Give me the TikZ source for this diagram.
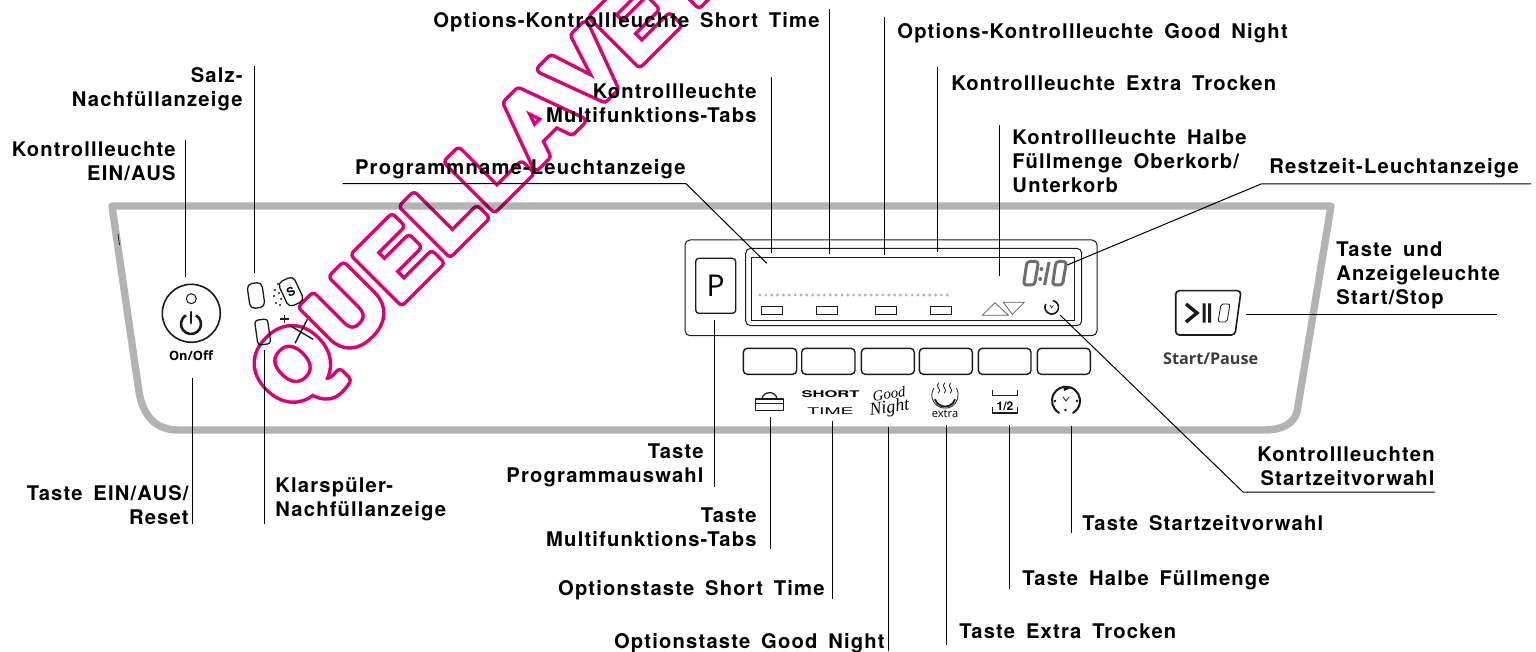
\documentclass[tikz,border=0pt]{standalone}
\usepackage{graphicx}
\usepackage{fontspec}
\setmainfont[LetterSpace=5.8,WordSpace=1.6]{TeX Gyre Heros}
\newfontfamily\wmfont[LetterSpace=6,Kerning=Off]{Liberation Sans}
\newfontfamily\panelfont{Open Sans}
\newfontfamily\iconfont{TeX Gyre Heros}
\newfontfamily\handfont{Liberation Serif}
\definecolor{panelgray}{HTML}{B3B3B3}
\definecolor{ink}{HTML}{1A1A1A}
\definecolor{segment}{HTML}{6E6E6E}
\newcommand{\vconn}[4]{\coordinate (#1a) at (#2,#3);\coordinate (#1b) at (#2,#4);\draw[conn] (#1a) -- (#1b);}
\tikzset{
 conn/.style={black,line width=0.5pt},
 lab/.style={font=\fontsize{10.1}{12}\selectfont\bfseries,inner sep=0pt,text=black},
 labr/.style={lab,anchor=east,align=right},
 labl/.style={lab,anchor=west,align=left},
 part/.style={draw=ink,line width=0.65pt,rounded corners=1.6pt},
 softkey/.style={draw=ink,line width=0.7pt,rounded corners=2pt},
 seg/.style={draw=segment,line width=1.5pt,line join=round},
 icon/.style={draw=ink,line width=0.8pt,line cap=round,line join=round},
 wm/.style={inner sep=0pt,anchor=base west,rotate=45},
}
\begin{document}
\begin{tikzpicture}[x=0.5pt,y=-0.5pt]
\useasboundingbox (0,0) rectangle (1536,652);
\clip (0,0) rectangle (1536,652);
\fill[white] (0,0) rectangle (1536,652);
% panel
\draw[panelgray,line width=3.7pt,line join=round] (112,206) -- (1331,206) -- (1297,412)
  .. controls (1293,425) and (1280,430) .. (1265,430) -- (178,430)
  .. controls (155,430) and (143,415) .. (139,392) -- cycle;
\draw[ink,line width=0.4pt] (118,234) -- (119.5,245);
% power
\node[draw=ink,line width=0.8pt,circle,minimum size=29pt,inner sep=0pt] (power) at (191.3,313.3) {};
\node[draw=ink,line width=0.5pt,circle,minimum size=5pt,inner sep=0pt] (powerled) at (191.3,298.7) {};
\draw[ink,line width=1.3pt] (191,324) ++(60:5pt) arc[start angle=60,end angle=-240,radius=5pt];
\draw[ink,line width=1.3pt,line cap=round] (191,312) -- (191,323);
\node[font=\panelfont\bfseries\fontsize{6.4}{8}\selectfont,inner sep=0pt,text=black] (onoff) at (191,356) {On/Off};
% LEDs
\node[part,rotate=8,minimum width=7.5pt,minimum height=12.5pt,inner sep=0pt,rounded corners=2.5pt] (saltled) at (256,295.5) {};
\node[part,rotate=8,minimum width=6.5pt,minimum height=12.5pt,inner sep=0pt] (rinseled) at (262.7,332) {};
\node[part,rotate=25,minimum width=8.5pt,minimum height=13.5pt,inner sep=0pt,rounded corners=2.5pt,font=\iconfont\bfseries\fontsize{6}{7}\selectfont] (salt) at (291,291.7) {S};
\foreach \px/\py in {278/284, 275/290, 279/293, 274/296, 281/299, 276/303, 280/305}{\fill[ink] (\px,\py) circle[radius=0.6pt];}
\coordinate (plusa) at (280,319);\coordinate (plusb) at (289,319);
\coordinate (plusc) at (284.5,315);\coordinate (plusd) at (284.5,323);
\draw[ink,line width=0.7pt] (plusa) -- (plusb) (plusc) -- (plusd);
\coordinate (rinsea) at (289,325);\coordinate (rinseb) at (313,339.3);
\coordinate (rinsec) at (295,343.3);\coordinate (rinsed) at (307.3,319.3);
\draw[ink,line width=0.7pt] (rinsea) -- (rinseb) (rinsec) -- (rinsed);
% display
\draw[ink,line width=0.5pt,rounded corners=2.5pt] (685,240) rectangle (1097,335.7);
\node[part,minimum width=20pt,minimum height=27.5pt,inner sep=0pt,font=\panelfont\fontsize{15}{15}\selectfont] (pkey) at (715.7,285.8) {P};
\draw[ink,line width=0.5pt,rounded corners=2.5pt] (745.7,248.3) rectangle (1081.7,325.7);
\draw[ink,line width=0.5pt] (751.7,257.7) rectangle (1074,320.7);
\foreach \d in {0,1,...,32}{\fill[panelgray] (760+\d*5.85,295) circle[radius=0.8pt];}
\foreach \n/\x in {a/761.3,b/816.7,c/875.3,d/930.7}{\draw[ink,line width=0.45pt] (\x,306) rectangle ++(21.2,8.7);}
\draw[ink!70,line width=0.4pt] (982.3,315.3) -- (995,302.7) -- (1008.3,315.3) -- cycle;
\draw[ink!70,line width=0.4pt] (1003.3,302.3) -- (1024.3,302.3) -- (1012.3,314.3) -- cycle;
% small clock
\draw[ink,line width=0.8pt] (1051.7,307.3) ++(80:3.4pt) arc[start angle=80,end angle=-210,radius=3.4pt];
\draw[ink,line width=0.3pt] (1050,305) -- (1051.7,308) -- (1053.5,305);
% digits
\draw[seg,rounded corners=1.5pt] (1027,261.5) -- (1038.5,261.5) -- (1034.5,285) -- (1023.5,285) -- cycle;
\fill[segment] (1041.5,269) circle[radius=1pt] (1040.2,279) circle[radius=1pt];
\draw[seg] (1049,262) -- (1044.5,285);
\draw[seg,rounded corners=1.5pt] (1056,261.5) -- (1066.5,261.5) -- (1062.5,285) -- (1052.5,285) -- cycle;
% keys
\foreach \n/\xa/\xb in {ka/743.3/796.7,kb/801.7/855,kc/861.3/914.3,kd/919.3/972.3,ke/978.3/1031,kf/1037.3/1090.3}{
  \draw[softkey] (\xa,348.3) rectangle (\xb,374.3);}
% icons under the keys
\draw[icon] (755.3,399) rectangle (783.3,410.3) (755.3,403.5) -- (783.3,403.5);
\draw[icon,line width=0.6pt] (762,399) .. controls (763,390.5) and (776,390.5) .. (777,399);
\node[inner sep=0pt,font=\iconfont\bfseries\fontsize{4.6}{5}\selectfont] (short) at (830.5,394) {\scalebox{1.8}[1]{SHORT}};
\node[inner sep=0pt,font=\iconfont\fontsize{4.6}{5}\selectfont] (time) at (830.5,410.7) {\scalebox{2.1}[1]{TIME}};
\node[inner sep=0pt,rotate=8,font=\handfont\itshape\fontsize{7.4}{10}\selectfont] (good) at (889,394) {Good};
\node[inner sep=0pt,rotate=8,font=\handfont\itshape\fontsize{9}{10}\selectfont] (night) at (889.5,408.5) {Night};
\draw[icon,line width=0.9pt] (945,396) ++(-20:5.3pt) arc[start angle=-20,end angle=-160,radius=5.3pt];
\draw[icon,line width=0.4pt] (945,395) ++(30:6.6pt) arc[start angle=30,end angle=-210,radius=6.6pt];
\foreach \sx in {938.5,944.5,950.5}{\draw[icon,line width=0.4pt] (\sx,383) .. controls (\sx-4,387) and (\sx+4,389) .. (\sx,393);}
\node[inner sep=0pt,font=\panelfont\fontsize{5.6}{6}\selectfont] (extra) at (945,413.5) {extra};
\draw[icon,line cap=butt,line width=0.7pt] (992.7,390) -- (992.7,395.7) -- (1017.3,395.7) -- (1017.3,390);
\draw[icon,line cap=butt,line width=0.7pt] (992.7,407.3) -- (992.7,413) -- (1017.3,413) -- (1017.3,407.3);
\node[inner sep=0pt,font=\iconfont\bfseries\fontsize{6}{7}\selectfont] (half) at (1005,406) {1/2};
\draw[icon,line width=1pt] (1066,400.7) ++(75:7pt) arc[start angle=75,end angle=-60,radius=7pt];
\draw[icon,line width=1pt] (1066,400.7) ++(-120:7pt) arc[start angle=-120,end angle=-280,radius=7pt];
\fill[ink] (1063,385.5) -- (1072,387.5) -- (1064,391) -- cycle;
\draw[icon,line width=0.4pt] (1063,397) -- (1066,401) -- (1069,397);
\fill[ink] (1055,401) circle[radius=0.7pt] (1077,401) circle[radius=0.7pt] (1065.5,410) circle[radius=0.7pt];
% start
\draw[ink,line width=0.8pt,line join=round,rounded corners=1.8pt] (1175.7,290.7) -- (1241,290.7) -- (1235,335) -- (1175.7,335) -- cycle;
\draw[ink,line width=1.7pt,line join=miter] (1186,304) -- (1197,313) -- (1186,322);
\fill[ink] (1202.5,303.3) rectangle (1205.5,322.7) (1208,303.3) rectangle (1211,322.7);
\draw[ink,line width=0.4pt,rounded corners=1pt] (1221,304) -- (1230,304) -- (1227,322) -- (1218,322) -- cycle;
\node[font=\panelfont\bfseries\fontsize{8.1}{10}\selectfont,inner sep=0pt,text=ink!85] (startpause) at (1210.7,359) {Start/Pause};
% labels
\node[labr] (l1) at (176,161) {Kontrollleuchte\\EIN/AUS};
\node[labr] (l2) at (243,89) {Salz-\\Nachfüllanzeige};
\node[lab,anchor=east] (l3) at (820,22.5) {Options-Kontrollleuchte Short Time};
\node[labl] (l4) at (897,33.5) {Options-Kontrollleuchte Good Night};
\node[labr] (l5) at (757,103) {Kontrollleuchte\\Multifunktions-Tabs};
\node[labl] (l6) at (951,83) {Kontrollleuchte Extra Trocken};
\node[labl] (l7) at (1012,161) {Kontrollleuchte Halbe\\Füllmenge Oberkorb/\\Unterkorb};
\node[lab,anchor=east] (l8) at (686,169.5) {Programmname-Leuchtanzeige};
\node[labl] (l9) at (1269,168.5) {Restzeit-Leuchtanzeige};
\node[labl] (l10) at (1336,275.5) {Taste und\\Anzeigeleuchte\\Start/Stop};
\node[labr] (l11) at (1435,466) {Kontrollleuchten\\Startzeitvorwahl};
\node[labl] (l12) at (1082,523.5) {Taste Startzeitvorwahl};
\node[labl] (l13) at (1022,580) {Taste Halbe Füllmenge};
\node[labl] (l14) at (959,631.5) {Taste Extra Trocken};
\node[lab,anchor=east] (l15) at (885,643.5) {Optionstaste Good Night};
\node[lab,anchor=east] (l16) at (825,590.5) {Optionstaste Short Time};
\node[labr] (l17) at (757,527) {Taste\\Multifunktions-Tabs};
\node[labr] (l18) at (704,465) {Taste\\Programmauswahl};
\node[labl] (l19) at (275,499) {Klarspüler-\\Nachfüllanzeige};
\node[labr] (l20) at (189,505) {Taste EIN/AUS/\\Reset};
% connectors
\vconn{c1}{185}{140}{277}
\vconn{c2}{254.5}{66}{273}
\vconn{c3}{264.5}{350}{524}
\vconn{c4}{192.7}{378}{524}
\vconn{c5}{771.7}{77}{253}
\vconn{c6}{829.3}{9}{254.3}
\vconn{c7}{884.3}{17}{255}
\vconn{c8}{937.7}{67}{251.7}
\vconn{c9}{999.3}{125}{275.7}
\vconn{c10}{714.7}{320}{487}
\vconn{c11}{770.3}{417.3}{549}
\vconn{c12}{832}{420.7}{599}
\vconn{c13}{888.7}{426.7}{651}
\vconn{c14}{946.3}{425}{645}
\vconn{c15}{1009.3}{425}{589}
\vconn{c16}{1071.3}{426}{533}
\coordinate (p1) at (342.7,183.7);\coordinate (p2) at (686,183.7);\coordinate (p3) at (766.7,263.3);
\draw[conn] (p1) -- (p2) -- (p3);
\coordinate (r1) at (1531,184);\coordinate (r2) at (1261,184);\coordinate (r3) at (1067.3,265);
\draw[conn] (r1) -- (r2) -- (r3);
\coordinate (s1) at (1246,314);\coordinate (s2) at (1497,314);
\draw[conn] (s1) -- (s2);
\coordinate (t1) at (1435,492);\coordinate (t2) at (1243,492);\coordinate (t3) at (1060,315);
\draw[conn] (t1) -- (t2) -- (t3);
% watermark: an offset outline of the lettering, kept transparent inside
\begin{scope}[blend mode=multiply]
\begin{scope}[transparency group]
\begin{scope}[blend mode=normal]
\node[wm] (watermark) at (289.4,412.9) {\wmfont\bfseries\fontsize{47}{50}\selectfont\special{pdf:code 0.86 0 0.47 RG 0.86 0 0.47 rg 5.75 w 1 j 2 Tr}QUELLAVET\special{pdf:code 0 Tr}};
\node[wm] (watermarkinner) at (289.4,412.9) {\wmfont\bfseries\fontsize{47}{50}\selectfont\special{pdf:code 1 1 1 RG 1 1 1 rg 2.25 w 1 j 2 Tr}QUELLAVET\special{pdf:code 0 Tr}};
\end{scope}
\end{scope}
\end{scope}
\end{tikzpicture}
\end{document}
